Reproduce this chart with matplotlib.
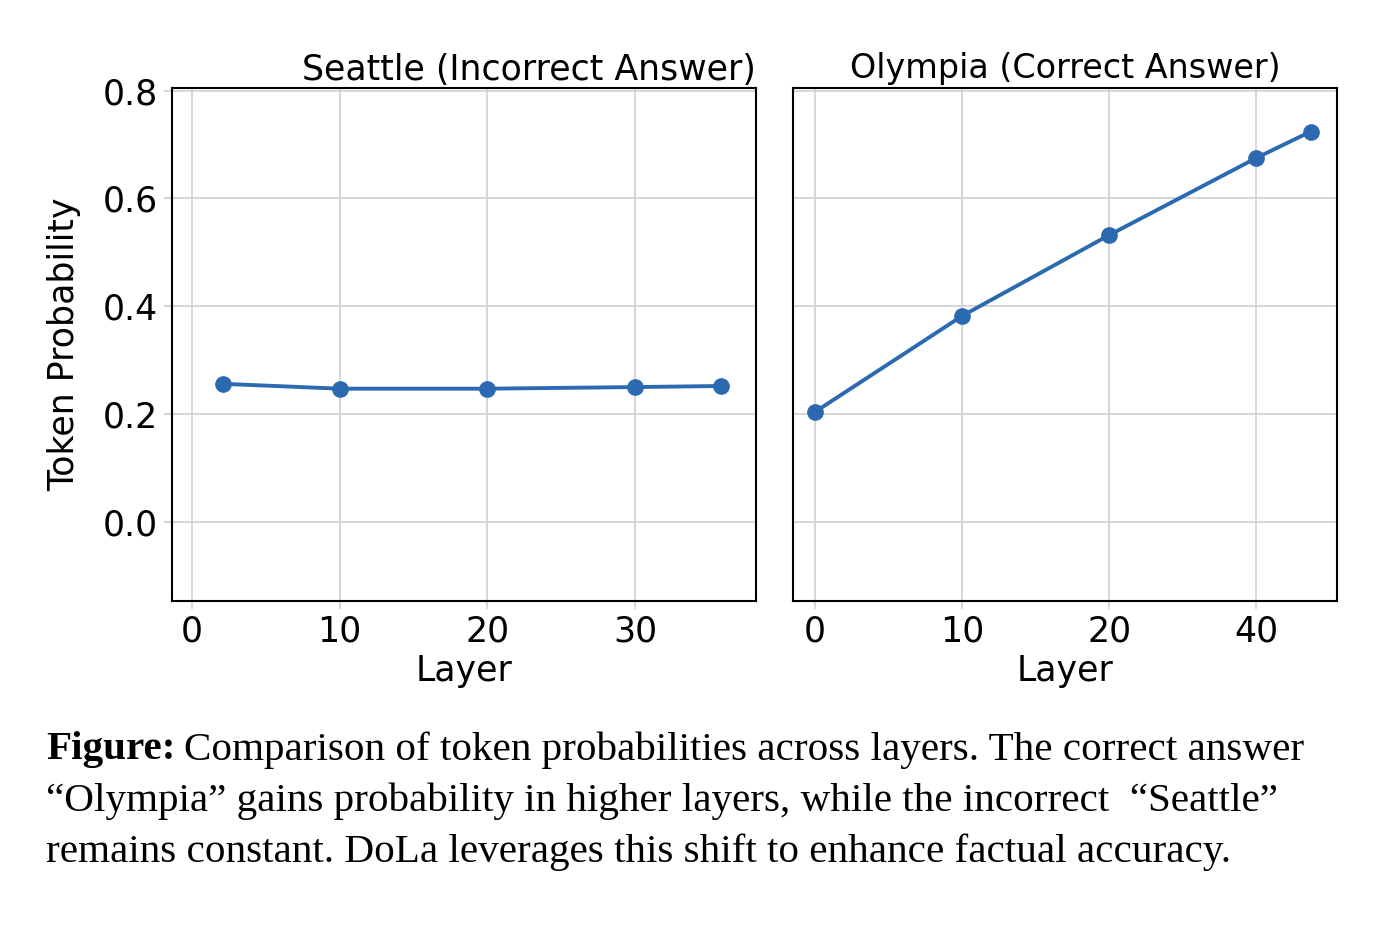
import matplotlib.pyplot as plt

# --- Data ---
seattle_layers = [2.1, 10, 20, 30, 35.8]
seattle_probs = [0.256, 0.247, 0.247, 0.250, 0.252]

olympia_layers = [0, 10, 20, 30, 33.7]
olympia_probs = [0.204, 0.382, 0.532, 0.675, 0.724]

left_ticks = [0, 10, 20, 30]
left_ticklabels = ['0', '10', '20', '30']
right_ticks = [0, 10, 20, 30]
right_ticklabels = ['0', '10', '20', '40']
y_ticks = [0.0, 0.2, 0.4, 0.6, 0.8]

LINE_COLOR = '#2b69b0'
GRID_COLOR = '#d0d0d0'
FS = 25

fig = plt.figure(figsize=(14, 9.33), dpi=100)
ax1 = fig.add_axes([172 / 1400, 1 - 601 / 933, 584 / 1400, 513 / 933])
ax2 = fig.add_axes([793 / 1400, 1 - 601 / 933, 544 / 1400, 513 / 933])

for ax in (ax1, ax2):
    ax.set_ylim(-0.147, 0.805)
    ax.set_yticks(y_ticks)
    ax.grid(True, color=GRID_COLOR, linewidth=1.2)
    ax.set_axisbelow(True)
    ax.tick_params(labelsize=FS, color=GRID_COLOR, length=6, width=1.2, pad=4)
    for sp in ax.spines.values():
        sp.set_linewidth(1.5)
    ax.set_xlabel('Layer', fontsize=FS, labelpad=4)

# Seattle
ax1.plot(seattle_layers, seattle_probs, '-o', color=LINE_COLOR, lw=2.8, ms=11)
ax1.set_xlim(-1.35, 38.2)
ax1.set_xticks(left_ticks)
ax1.set_xticklabels(left_ticklabels)
ax1.set_ylabel('Token Probability', fontsize=FS, labelpad=16)
ax1.set_title('Seattle (Incorrect Answer)', fontsize=FS, loc='right', pad=6)

# Olympia
ax2.plot(olympia_layers, olympia_probs, '-o', color=LINE_COLOR, lw=2.8, ms=11)
ax2.set_xlim(-1.5, 35.5)
ax2.set_xticks(right_ticks)
ax2.set_xticklabels(right_ticklabels)
ax2.tick_params(axis='y', labelleft=False, length=0)
ax2.set_title('Olympia (Correct Answer)', fontsize=24, pad=7)

# --- Caption ---
serif = ['Liberation Serif', 'DejaVu Serif']
CFS = 29.6
fig.text(46 / 1400, 1 - 750 / 933, 'Figure:', fontsize=CFS, fontweight='bold',
         family=serif, va='center')
fig.text(184 / 1400, 1 - 750 / 933,
         'Comparison of token probabilities across layers. The correct answer',
         fontsize=CFS, family=serif, va='center')
fig.text(46 / 1400, 1 - 801 / 933,
         '\u201cOlympia\u201d gains probability in higher layers, while the incorrect  \u201cSeattle\u201d',
         fontsize=CFS, family=serif, va='center')
fig.text(46 / 1400, 1 - 852 / 933,
         'remains constant. DoLa leverages this shift to enhance factual accuracy.',
         fontsize=CFS, family=serif, va='center')

fig.savefig('out.png', dpi=100, facecolor='white')
